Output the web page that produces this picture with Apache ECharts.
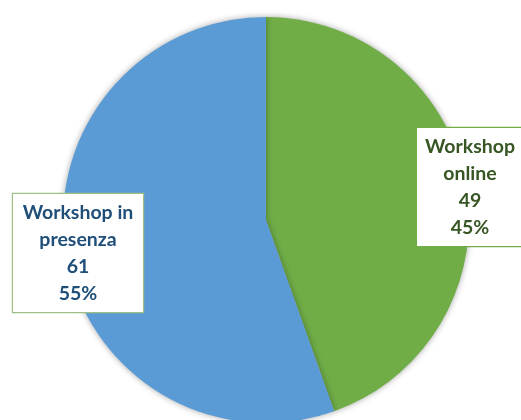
<!DOCTYPE html>
<html>
<head>
<meta charset="utf-8">
<script src="https://cdn.jsdelivr.net/npm/echarts@6/dist/echarts.min.js"></script>
<style>html,body{margin:0;padding:0;background:#fff}#c{width:521px;height:420px}</style>
</head>
<body>
<div id="c"></div>
<script>
var categories = ['Workshop\nonline', 'Workshop in\npresenza'];
var values = [49, 61];
var colors = ['#70AD47', '#5B9BD5'];
var labelColors = ['#375623', '#1F4E79'];

var chart = echarts.init(document.getElementById('c'), null, {renderer: 'canvas'});
var labelPos = [
  {x: 470, y: 187},
  {x: 78, y: 253}
];
var labelWidths = [94, 118];
chart.setOption({
  animation: false,
  series: [{
    type: 'pie',
    center: [266, 220],
    radius: 203,
    startAngle: 90,
    clockwise: true,
    data: categories.map(function (c, i) {
      return {
        name: c, value: values[i],
        itemStyle: {color: colors[i]},
        label: {color: labelColors[i], width: labelWidths[i], borderColor: i === 0 ? '#70AD47' : '#9DBF84'}
      };
    }),
    itemStyle: {shadowBlur: 6, shadowColor: 'rgba(0,0,0,0.35)'},
    label: {
      show: true,
      position: 'outside',
      formatter: function (p) { return p.name + '\n' + p.value + '\n' + Math.round(p.percent) + '%'; },
      fontFamily: 'Lato',
      fontWeight: 'bold',
      fontSize: 19.5,
      lineHeight: 27,
      align: 'center',
      backgroundColor: '#fff',
      borderWidth: 1.2,
      padding: [5, 6, 5, 6]
    },
    labelLine: {show: false},
    labelLayout: function (params) {
      var p = labelPos[params.dataIndex];
      return {x: p.x, y: p.y, align: 'center', verticalAlign: 'middle'};
    }
  }]
});
</script>
</body>
</html>
